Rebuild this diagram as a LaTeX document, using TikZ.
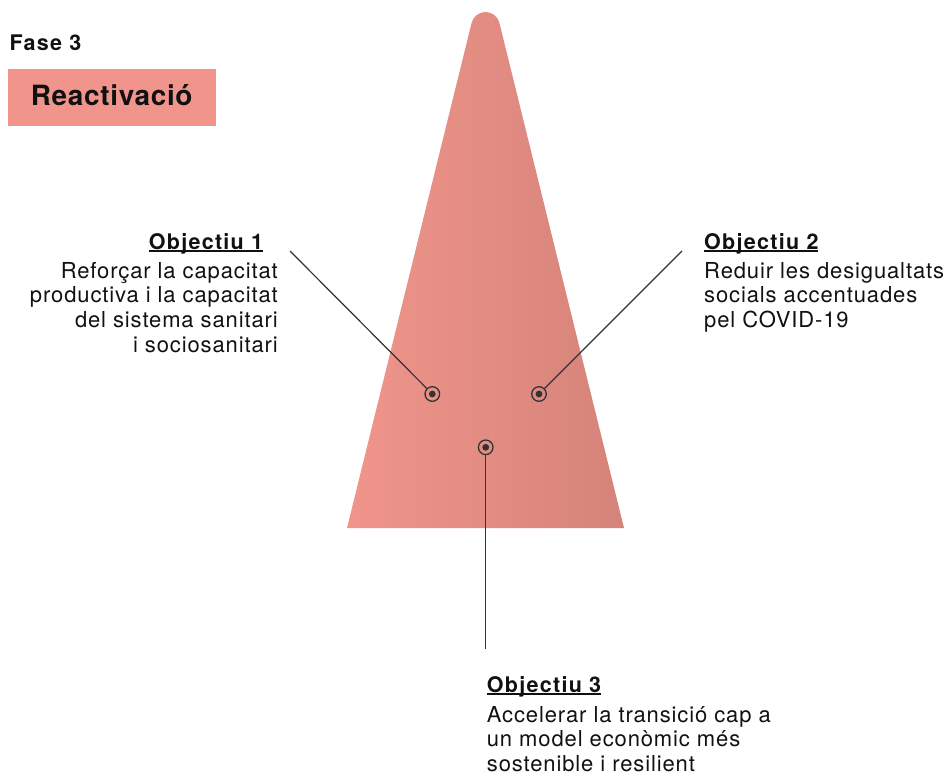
\documentclass[tikz,border=0pt]{standalone}
\usepackage{fontspec}
\setmainfont{TeX Gyre Heros}
\newfontfamily\bodyfont{TeX Gyre Heros}[LetterSpace=4]
\newfontfamily\headfont{TeX Gyre Heros}[LetterSpace=6]
\newfontfamily\titlefont{TeX Gyre Heros}[LetterSpace=2.5]
\definecolor{salmon}{HTML}{F1958C}
\definecolor{coneL}{HTML}{F0958B}
\definecolor{coneR}{HTML}{D5837A}
\definecolor{ink}{HTML}{333333}
\definecolor{txt}{HTML}{111111}
\newcommand{\myul}[1]{\setbox0\hbox{#1}\rlap{\rule[-2.6pt]{\wd0}{1.4pt}}\box0}
\tikzset{
  body/.style={font=\bodyfont\fontsize{22}{24.6}\selectfont, text=txt, inner sep=0pt},
  heading/.style={font=\headfont\fontsize{21.5}{24.6}\selectfont\bfseries, text=txt, inner sep=0pt},
  leader/.style={draw=ink, line width=1.2pt},
  ring/.style={circle, draw=ink, line width=1.3pt, minimum size=14.6pt, inner sep=0pt},
  dotc/.style={circle, fill=ink, minimum size=6.8pt, inner sep=0pt}
}
\begin{document}
\begin{tikzpicture}[x=1pt,y=-1pt]
\useasboundingbox (0,0) rectangle (948,780);
% cone with rounded apex
\shade[left color=coneL, right color=coneR]
  (347,528) -- (471.6,22.87)
  .. controls (473.18,16.49) and (478.93,12.0) .. (485.5,12.0)
  .. controls (492.07,12.0) and (497.82,16.49) .. (499.4,22.87)
  -- (624,528) -- cycle;
% phase label
\node[heading, anchor=base west] (fase) at (9.3,50.7) {Fase 3};
\fill[salmon] (8.3,69.3) rectangle (216,126);
\node[font=\titlefont\fontsize{27.9}{30}\selectfont\bfseries, text=txt, inner sep=0pt, anchor=base west] (react) at (30.7,105) {Reactivació};
% markers
\node[ring] (r1) at (432.3,394) {};
\node[dotc] at (r1) {};
\node[ring] (r2) at (539,394) {};
\node[dotc] at (r2) {};
\node[ring] (r3) at (485.7,447.3) {};
\node[dotc] at (r3) {};
\coordinate (e1) at (290,251);
\coordinate (e2) at (682,251);
\coordinate (e3) at (485.7,649.3);
\draw[leader] (e1) -- (r1);
\draw[leader] (e2) -- (r2);
\draw[leader] (r3) -- (e3);
% texts
\node[heading, anchor=base east] (h1) at (263.3,249) {\myul{Objectiu 1}};
\node[body, anchor=north east, align=right] (t1) at (278,262) {Reforçar la capacitat\\productiva i la capacitat\\del sistema sanitari\\i sociosanitari};
\node[heading, anchor=base west] (h2) at (704,249) {\myul{Objectiu 2}};
\node[body, anchor=north west, align=left] (t2) at (704,262) {Reduir les desigualtats\\socials accentuades\\pel COVID-19};
\node[heading, anchor=base west] (h3) at (486.7,692) {\myul{Objectiu 3}};
\node[body, anchor=north west, align=left] (t3) at (486.7,706) {Accelerar la transició cap a\\un model econòmic més\\sostenible i resilient};
\end{tikzpicture}
\end{document}
